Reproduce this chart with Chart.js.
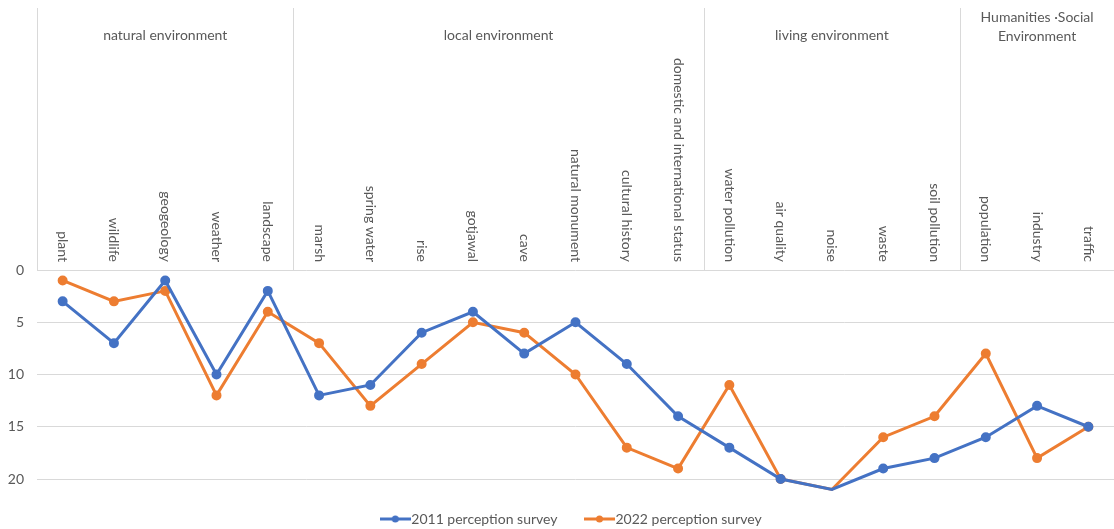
<!DOCTYPE html>
<html lang="en">
<head>
    <meta charset="UTF-8">
    <meta name="viewport" content="width=device-width, initial-scale=1.0">
    <title>Environmental Perception Survey</title>
    <script src="https://cdn.jsdelivr.net/npm/chart.js"></script>
    <style>
        html, body { margin: 0; padding: 0; background: #fff; }
        .chart-box { width: 1114px; height: 529px; }
    </style>
</head>
<body>
    <div class="chart-box">
        <canvas id="rankChart"></canvas>
    </div>

    <script>
        // categories, in the order they appear along the top axis
        const categories = [
            'plant', 'wildlife', 'geogeology', 'weather', 'landscape',
            'marsh', 'spring water', 'rise', 'gotjawal', 'cave', 'natural monument',
            'cultural history', 'domestic and international status',
            'water pollution', 'air quality', 'noise', 'waste', 'soil pollution',
            'population', 'industry', 'traffic'
        ];

        // group headers and how many categories each one covers
        const groupNames = [
            ['natural environment'],
            ['local environment'],
            ['living environment'],
            ['Humanities ·Social', 'Environment']
        ];
        const groupSizes = [5, 8, 5, 3];

        // ranking values
        const survey2011 = [3, 7, 1, 10, 2, 12, 11, 6, 4, 8, 5, 9, 14, 17, 20, 21, 19, 18, 16, 13, 15];
        const survey2022 = [1, 3, 2, 12, 4, 7, 13, 9, 5, 6, 10, 17, 19, 11, 20, 21, 16, 14, 8, 18, 15];

        const seriesNames = ['2011 perception survey', '2022 perception survey'];
        const seriesColors = ['#4472C4', '#ED7D31'];

        const yMin = 0;
        const yMax = 20;
        const yStep = 5;

        const textColor = '#595959';
        const lineColor = '#d9d9d9';
        const fontFamily = 'Lato, "Open Sans", sans-serif';

        // small "line with a dot" marker for the legend
        function makeMarker(color) {
            const c = document.createElement('canvas');
            c.width = 31;
            c.height = 10;
            const g = c.getContext('2d');
            g.strokeStyle = color;
            g.lineWidth = 3;
            g.beginPath();
            g.moveTo(0, 5);
            g.lineTo(31, 5);
            g.stroke();
            g.fillStyle = color;
            g.beginPath();
            g.arc(15.5, 5, 3.5, 0, Math.PI * 2);
            g.fill();
            return c;
        }
        const markers = seriesColors.map(makeMarker);

        // draws the rotated category labels, group headers and separators above the plot
        const topAxisLabels = {
            id: 'topAxisLabels',
            afterLayout(chart) {
                // legend in the original is centred a bit to the right
                chart.legend.left += 34;
            },
            afterDraw(chart) {
                const { ctx, chartArea, scales: { x } } = chart;
                const half = (x.getPixelForValue(1) - x.getPixelForValue(0)) / 2;
                ctx.save();

                // separators between groups
                ctx.strokeStyle = lineColor;
                ctx.lineWidth = 1;
                let start = 0;
                groupSizes.forEach((n) => {
                    const px = Math.round(x.getPixelForValue(start) - half) + 0.5;
                    ctx.beginPath();
                    ctx.moveTo(px, 8);
                    ctx.lineTo(px, chartArea.top);
                    ctx.stroke();
                    start += n;
                });

                // group headers
                ctx.fillStyle = textColor;
                ctx.font = '14px ' + fontFamily;
                ctx.textAlign = 'center';
                ctx.textBaseline = 'middle';
                start = 0;
                groupSizes.forEach((n, g) => {
                    const left = x.getPixelForValue(start) - half;
                    const right = x.getPixelForValue(start + n - 1) + half;
                    const cx = (left + right) / 2;
                    const lines = groupNames[g];
                    lines.forEach((t, k) => {
                        const y = lines.length === 1 ? 35 : 17 + k * 19;
                        ctx.fillText(t, cx, y);
                    });
                    start += n;
                });

                // rotated category labels, reading downward, ending just above the axis
                ctx.textAlign = 'right';
                categories.forEach((label, i) => {
                    ctx.save();
                    ctx.translate(x.getPixelForValue(i), chartArea.top - 8);
                    ctx.rotate(Math.PI / 2);
                    ctx.fillText(label, 0, 0);
                    ctx.restore();
                });

                ctx.restore();
            }
        };

        const ctx = document.getElementById('rankChart').getContext('2d');
        new Chart(ctx, {
            type: 'line',
            data: {
                labels: categories,
                datasets: [survey2011, survey2022].map((values, i) => ({
                    label: seriesNames[i],
                    data: values,
                    borderColor: seriesColors[i],
                    backgroundColor: seriesColors[i],
                    pointBackgroundColor: seriesColors[i],
                    pointBorderColor: seriesColors[i],
                    borderWidth: 3,
                    pointRadius: 3.5,
                    pointHoverRadius: 4,
                    tension: 0,
                    fill: false,
                    clip: false
                }))
            },
            options: {
                responsive: true,
                maintainAspectRatio: false,
                animation: false,
                layout: {
                    autoPadding: false,
                    padding: { top: 270, left: 0, right: 0, bottom: -7 }
                },
                scales: {
                    x: {
                        type: 'category',
                        display: false,
                        offset: true
                    },
                    y: {
                        reverse: true,
                        min: yMin,
                        max: yMax,
                        ticks: {
                            stepSize: yStep,
                            color: textColor,
                            padding: 13,
                            font: { family: fontFamily, size: 14 }
                        },
                        grid: { color: lineColor, drawTicks: false },
                        border: { display: false },
                        afterFit: (scale) => { scale.width = 37; }
                    }
                },
                plugins: {
                    legend: {
                        position: 'bottom',
                        labels: {
                            color: textColor,
                            font: { family: fontFamily, size: 14 },
                            usePointStyle: true,
                            pointStyleWidth: 18,
                            padding: 33,
                            generateLabels: (chart) => chart.data.datasets.map((ds, i) => ({
                                text: ds.label,
                                fillStyle: ds.borderColor,
                                strokeStyle: ds.borderColor,
                                fontColor: textColor,
                                lineWidth: 0,
                                pointStyle: markers[i],
                                hidden: !chart.isDatasetVisible(i),
                                datasetIndex: i
                            }))
                        }
                    },
                    tooltip: { enabled: false }
                }
            },
            plugins: [topAxisLabels]
        });
    </script>
</body>
</html>
